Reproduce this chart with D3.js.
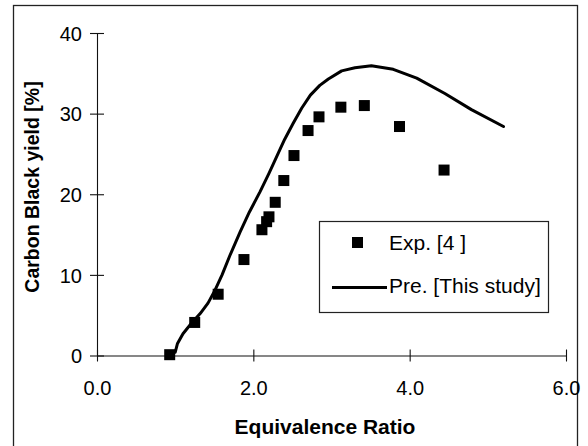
<!DOCTYPE html>
<html>
<head>
<meta charset="utf-8">
<script src="https://cdn.jsdelivr.net/npm/d3@7"></script>
<style>
    body { margin: 0; background: #fff; }
    svg { display: block; font-family: "Liberation Sans", Arial, sans-serif; }
</style>
</head>
<body>
<svg class="chart"></svg>
<script>
// experimental points, Exp. [4 ]
const expRatio = [0.93, 1.25, 1.55, 1.88, 2.11, 2.17, 2.20, 2.28, 2.39, 2.52, 2.70, 2.84, 3.12, 3.42, 3.87, 4.44];
const expYield = [0.1, 4.1, 7.6, 11.9, 15.6, 16.6, 17.2, 19.0, 21.7, 24.8, 27.9, 29.6, 30.8, 31.0, 28.4, 23.0];

// prediction curve, Pre. [This study]
const preRatio = [1.00, 1.03, 1.10, 1.20, 1.32, 1.42, 1.51, 1.60, 1.70, 1.83, 1.95, 2.085, 2.20, 2.30, 2.40, 2.51, 2.62, 2.73, 2.85, 2.96, 3.13, 3.30, 3.51, 3.79, 4.09, 4.45, 4.79, 5.20];
const preYield = [0.4, 1.5, 2.7, 3.9, 5.2, 6.5, 8.1, 10.0, 12.4, 15.3, 17.8, 20.3, 22.6, 24.7, 26.8, 28.8, 30.7, 32.3, 33.5, 34.3, 35.3, 35.7, 35.95, 35.5, 34.4, 32.5, 30.5, 28.4];

const xTicks = [0, 2, 4, 6];
const yTicks = [0, 10, 20, 30, 40];
const legendLabels = ['Exp. [4 ]', 'Pre. [This study]'];

function drawChart() {
    const width = 588;
    const height = 446;

    let svg = d3.select('.chart')
                .attr('width', width)
                .attr('height', height);

    // outer frame (bottom edge falls outside the picture)
    svg.append('rect')
        .attr('x', 13.5).attr('y', 5.5)
        .attr('width', 564).attr('height', 460)
        .attr('fill', 'none')
        .attr('stroke', '#222')
        .attr('stroke-width', 1.3);

    let x = d3.scaleLinear().domain([0, 6]).range([97, 566]);
    let y = d3.scaleLinear().domain([0, 40]).range([355.5, 33]);

    let xAxis = svg.append('g')
                    .attr('transform', `translate(0,${y(0)})`)
                    .call(d3.axisBottom(x)
                            .tickValues(xTicks)
                            .tickSize(6)
                            .tickSizeOuter(0)
                            .tickFormat(d3.format('.1f')));
    xAxis.selectAll('.tick line').attr('y1', -6).attr('y2', 6);
    xAxis.selectAll('.tick text')
        .attr('y', 0).attr('dy', 39)
        .style('font-size', '20px');

    let yAxis = svg.append('g')
                    .attr('transform', `translate(${x(0)},0)`)
                    .call(d3.axisLeft(y)
                            .tickValues(yTicks)
                            .tickSize(7)
                            .tickSizeOuter(0));
    yAxis.selectAll('.tick line').attr('x1', -7).attr('x2', 7);
    yAxis.selectAll('.tick text')
        .attr('x', -15).attr('dy', '0.36em')
        .style('font-size', '20px');

    svg.selectAll('.domain, .tick line').attr('stroke', '#111').attr('stroke-width', 1.1);
    svg.selectAll('.tick text').attr('fill', '#000').attr('font-family', null);

    // axis titles
    svg.append('text')
        .attr('x', 325).attr('y', 434)
        .attr('text-anchor', 'middle')
        .style('font-size', '21px')
        .style('font-weight', 'bold')
        .text('Equivalence Ratio');

    svg.append('text')
        .attr('transform', 'translate(39,187) rotate(-90)')
        .attr('text-anchor', 'middle')
        .style('font-size', '19.5px')
        .style('font-weight', 'bold')
        .text('Carbon Black yield [%]');

    // prediction line
    let line = d3.line()
                    .x((d, i) => x(preRatio[i]))
                    .y(d => y(d));

    svg.append('path')
        .datum(preYield)
        .attr('d', line)
        .attr('fill', 'none')
        .attr('stroke', '#000')
        .attr('stroke-width', 3)
        .attr('stroke-linejoin', 'round')
        .attr('stroke-linecap', 'round');

    // experimental squares
    const sq = 11;
    svg.selectAll('.exp')
        .data(expYield)
        .enter()
            .append('rect')
            .classed('exp', true)
            .attr('x', (d, i) => x(expRatio[i]) - sq / 2)
            .attr('y', d => y(d) - sq / 2)
            .attr('width', sq)
            .attr('height', sq)
            .attr('fill', '#000');

    // legend
    let legend = svg.append('g');
    legend.append('rect')
        .attr('x', 319.5).attr('y', 221.5)
        .attr('width', 229).attr('height', 91)
        .attr('fill', '#fff')
        .attr('stroke', '#222')
        .attr('stroke-width', 1.2);

    legend.append('rect')
        .attr('x', 352).attr('y', 237)
        .attr('width', sq).attr('height', sq)
        .attr('fill', '#000');
    legend.append('line')
        .attr('x1', 332).attr('x2', 387)
        .attr('y1', 287.5).attr('y2', 287.5)
        .attr('stroke', '#000')
        .attr('stroke-width', 3);

    legend.selectAll('.legend-label')
        .data(legendLabels)
        .enter()
            .append('text')
            .classed('legend-label', true)
            .attr('x', 389)
            .attr('y', (d, i) => 250 + i * 43)
            .style('font-size', '21px')
            .text(d => d);
}

drawChart();
</script>
</body>
</html>
